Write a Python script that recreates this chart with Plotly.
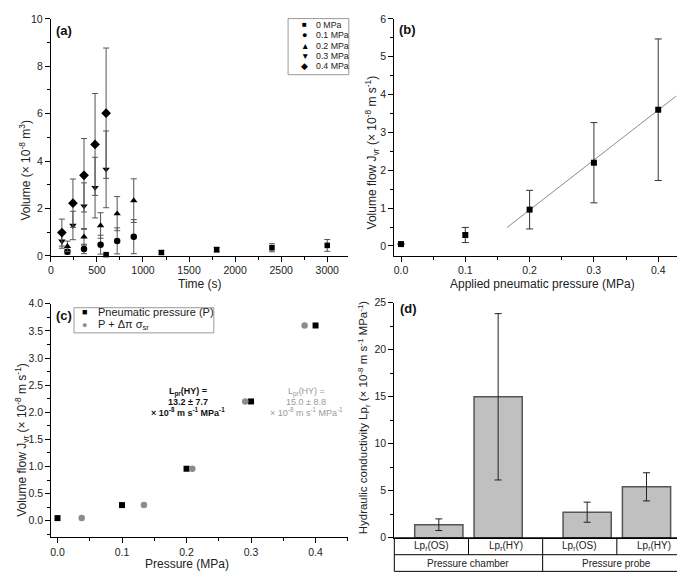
import plotly.graph_objects as go

# ---------------- data ----------------
# (a) volume vs time for applied pressures
t_0 = [600, 1200, 1800, 2400, 3000]
v_0 = [0.05, 0.14, 0.26, 0.34, 0.44]
e_0 = [0.03, 0.08, 0.10, 0.17, 0.25]
t_01 = [180, 360, 540, 720, 900]
v_01 = [0.17, 0.29, 0.47, 0.63, 0.81]
e_01 = [0.10, 0.20, 0.40, 0.55, 0.72]
t_02 = [180, 360, 540, 720, 900]
v_02 = [0.40, 0.80, 1.28, 1.78, 2.33]
e_02 = [0.22, 0.35, 0.54, 0.72, 0.92]
t_03 = [120, 240, 360, 480, 600]
v_03 = [0.62, 1.28, 2.10, 2.88, 3.65]
e_03 = [0.30, 0.60, 0.98, 1.28, 1.62]
t_04 = [120, 240, 360, 480, 600]
v_04 = [0.98, 2.22, 3.40, 4.70, 6.02]
e_04 = [0.57, 1.02, 1.55, 2.15, 2.75]
series_a_names = ["0 MPa", "0.1 MPa", "0.2 MPa", "0.3 MPa", "0.4 MPa"]

# (b) volume flow vs applied pressure
p_b = [0.0, 0.1, 0.2, 0.3, 0.4]
j_b = [0.05, 0.29, 0.96, 2.20, 3.60]
je_b = [0.0, 0.20, 0.51, 1.06, 1.87]
fit_x = [0.165, 0.428]
fit_y = [0.49, 3.96]

# (c) volume flow vs pressure
p_c = [0.0, 0.1, 0.2, 0.3, 0.4]
p_c_osm = [0.0375, 0.134, 0.209, 0.291, 0.383]
j_c = [0.05, 0.29, 0.96, 2.20, 3.60]
lp_lines_black = ["L<sub>pr</sub>(HY) =", "13.2 ± 7.7",
                  "× 10<sup>-8</sup> m s<sup>-1</sup> MPa<sup>-1</sup>"]
lp_lines_gray = ["L<sub>pr</sub>(HY) =", "15.0 ± 8.8",
                 "× 10<sup>-8</sup> m s<sup>-1</sup> MPa<sup>-1</sup>"]

# (d) hydraulic conductivity
bar_labels = ["Lp<sub>r</sub>(OS)", "Lp<sub>r</sub>(HY)", "Lp<sub>r</sub>(OS)", "Lp<sub>r</sub>(HY)"]
bar_groups = ["Pressure chamber", "Pressure probe"]
bar_pos = [0.6, 1.4, 2.6, 3.4]
bar_vals = [1.39, 15.0, 2.72, 5.42]
bar_errs = [0.62, 8.85, 1.07, 1.50]

FONT = "Liberation Sans, Arial, sans-serif"
W, H = 685, 572


def px(x):
    return x / W


def py(y):
    return 1 - y / H


fig = go.Figure()

ERR_A = "#555555"
sym_a = ["square", "circle", "triangle-up", "triangle-down", "diamond"]
size_a = [5.5, 6.5, 6.5, 6.5, 7.5]
for name, t, v, e, s, sz in zip(series_a_names,
                                 [t_0, t_01, t_02, t_03, t_04],
                                 [v_0, v_01, v_02, v_03, v_04],
                                 [e_0, e_01, e_02, e_03, e_04], sym_a, size_a):
    fig.add_trace(go.Scatter(
        x=t, y=v, mode="markers", name=name, xaxis="x", yaxis="y",
        marker=dict(symbol=s, size=sz, color="black"),
        error_y=dict(type="data", array=e, color=ERR_A, thickness=1, width=3),
        cliponaxis=False, showlegend=False))

# (b)
fig.add_trace(go.Scatter(x=fit_x, y=fit_y, mode="lines", xaxis="x2", yaxis="y2",
                         line=dict(color="#8a8a8a", width=1), showlegend=False))
fig.add_trace(go.Scatter(
    x=p_b, y=j_b, mode="markers", xaxis="x2", yaxis="y2",
    marker=dict(symbol="square", size=6, color="black"),
    error_y=dict(type="data", array=je_b, color="#333333", thickness=1, width=3.5),
    cliponaxis=False, showlegend=False))

# (c)
fig.add_trace(go.Scatter(x=p_c, y=j_c, mode="markers", xaxis="x3", yaxis="y3",
                         name="Pneumatic pressure (P)",
                         marker=dict(symbol="square", size=6, color="black"),
                         cliponaxis=False, showlegend=False))
fig.add_trace(go.Scatter(x=p_c_osm, y=j_c, mode="markers", xaxis="x3", yaxis="y3",
                         name="P + Δπ σsr",
                         marker=dict(symbol="circle", size=6.5, color="#8c8c8c"),
                         cliponaxis=False, showlegend=False))

# (d)
fig.add_trace(go.Bar(
    x=bar_pos, y=bar_vals, width=0.65, xaxis="x4", yaxis="y4",
    marker=dict(color="#c0c0c0", line=dict(color="#555555", width=1.5)),
    error_y=dict(type="data", array=bar_errs, color="#222222", thickness=1, width=3.5),
    showlegend=False))

common_axis = dict(showline=True, linecolor="black", linewidth=1, ticks="outside",
                   ticklen=5, tickcolor="black", tickwidth=1, showgrid=False,
                   zeroline=False, tickfont=dict(family=FONT, size=10.5, color="#222"),
                   mirror=False)

fig.update_layout(
    width=W, height=H, margin=dict(l=0, r=0, t=0, b=0),
    paper_bgcolor="white", plot_bgcolor="white", showlegend=False,
    font=dict(family=FONT, color="#222"),
    xaxis=dict(domain=[px(40), px(338)], range=[0, 3220], anchor="y", dtick=500,
               minor=dict(dtick=250, ticks="outside", ticklen=3, tickcolor="black"),
               **common_axis),
    yaxis=dict(domain=[py(247), py(5)], range=[0, 10], anchor="x", dtick=2,
               minor=dict(dtick=1, ticks="outside", ticklen=3, tickcolor="black"),
               **common_axis),
    xaxis2=dict(domain=[px(385), px(683)], range=[-0.0104, 0.451], anchor="y2", dtick=0.1,
                tickformat=".1f",
                minor=dict(dtick=0.05, ticks="outside", ticklen=3, tickcolor="black"),
                **common_axis),
    yaxis2=dict(domain=[py(247), py(5)], range=[-0.26, 6], anchor="x2", dtick=1,
                minor=dict(dtick=0.5, ticks="outside", ticklen=3, tickcolor="black"),
                **common_axis),
    xaxis3=dict(domain=[px(40.3), px(338.3)], range=[-0.0099, 0.45], anchor="y3", dtick=0.1,
                tickformat=".1f",
                minor=dict(dtick=0.05, ticks="outside", ticklen=3, tickcolor="black"),
                **common_axis),
    yaxis3=dict(domain=[py(534.3), py(296)], range=[-0.3, 4.0], anchor="x3", dtick=0.5,
                tickformat=".1f",
                minor=dict(dtick=0.25, ticks="outside", ticklen=3, tickcolor="black"),
                **common_axis),
    xaxis4=dict(domain=[px(385), px(683)], range=[0, 4], anchor="y4", showline=True,
                linecolor="black", showticklabels=False, ticks="", showgrid=False,
                zeroline=False),
    yaxis4=dict(domain=[py(535), py(295)], range=[0, 25], anchor="x4", dtick=5,
                minor=dict(dtick=2.5, ticks="outside", ticklen=3, tickcolor="black"),
                **common_axis),
)

ann = []


def add_text(x, y, text, size=12, color="#222", xanchor="center", yanchor="middle",
             angle=0, bold=False):
    ann.append(dict(x=x, y=y, xref="paper", yref="paper", text=text, showarrow=False,
                    xanchor=xanchor, yanchor=yanchor, textangle=angle,
                    font=dict(family=FONT, size=size, color=color,
                              weight="bold" if bold else "normal")))


# panel labels
add_text(px(43), py(17), "(a)", 13, "#111", "left", bold=True)
add_text(px(388), py(16), "(b)", 13, "#111", "left", bold=True)
add_text(px(43.5), py(308), "(c)", 13, "#111", "left", bold=True)
add_text(px(389), py(301), "(d)", 13, "#111", "left", bold=True)

# axis titles
add_text(px(189.5), py(276), "Time (s)", 12)
add_text(px(14), py(159), "Volume (× 10<sup>-8</sup> m<sup>3</sup>)", 12, angle=-90)
add_text(px(534), py(276), "Applied pneumatic pressure (MPa)", 12)
add_text(px(363), py(141), "Volume flow J<sub>vr</sub> (× 10<sup>-8</sup> m s<sup>-1</sup>)", 12, angle=-90)
add_text(px(177), py(561.5), "Pressure (MPa)", 12)
add_text(px(11), py(435), "Volume flow J<sub>vr</sub> (× 10<sup>-8</sup> m s<sup>-1</sup>)", 12, angle=-90)
add_text(px(354), py(411.5),
         "Hydraulic conductivity Lp<sub>r</sub> (× 10<sup>-8</sup> m s<sup>-1</sup> MPa<sup>-1</sup>)",
         11.5, angle=-90)

# legend (a)
glyphs_a = ["■", "●", "▲", "▼", "◆"]
glyph_sz = [8, 9, 8.5, 8.5, 9]
ys_a = [11, 21.7, 32.3, 42.7, 52.7]
for g, gs, nm, yy in zip(glyphs_a, glyph_sz, series_a_names, ys_a):
    add_text(px(295), py(yy), g, gs, "black")
    add_text(px(304.5), py(yy), nm, 8.8, "#222", "left")

# legend (c)
add_text(px(74), py(304), "■", 9, "black")
add_text(px(85.3), py(304), "Pneumatic pressure (P)", 11, "#222", "left")
add_text(px(74), py(317.3), "●", 9, "#8c8c8c")
add_text(px(85.3), py(317.3), "P + Δπ σ<sub>sr</sub>", 11, "#222", "left")

# (c) annotations, line by line
for yy, ln in zip([385.7, 396.2, 406.5], lp_lines_black):
    add_text(px(178), py(yy), "<b>" + ln + "</b>", 9, "#111")
for yy, ln in zip([385.7, 396.2, 406.5], lp_lines_gray):
    add_text(px(296.7), py(yy), ln, 9, "#9a9a9a")

# (d) table texts
row1_y = py(543.3)
row2_y = py(560.8)
x4_0, x4_1 = px(385), px(683)
cw = (x4_1 - x4_0) / 4
for i, lab in enumerate(bar_labels):
    add_text(x4_0 + cw * (i + 0.5), row1_y, lab, 10)
for i, g in enumerate(bar_groups):
    add_text(x4_0 + cw * (2 * i + 1), row2_y, g, 10)

fig.update_layout(annotations=ann)

shapes = []
# legend boxes
shapes.append(dict(type="rect", xref="paper", yref="paper", x0=px(278.3), x1=px(339.3),
                   y0=py(62), y1=py(4.7), line=dict(color="#9a9a9a", width=1)))
shapes.append(dict(type="rect", xref="paper", yref="paper", x0=px(63.3), x1=px(203.7),
                   y0=py(325.7), y1=py(300), line=dict(color="#9a9a9a", width=1)))
# table
t_top, t_mid, t_bot = py(535), py(552.3), py(569.3)
shapes.append(dict(type="rect", xref="x4 domain", yref="paper", x0=0, x1=1,
                   y0=t_bot, y1=t_top, line=dict(color="black", width=1)))
shapes.append(dict(type="line", xref="x4 domain", yref="paper", x0=0, x1=1,
                   y0=t_mid, y1=t_mid, line=dict(color="black", width=1)))
for xv in [0.25, 0.75]:
    shapes.append(dict(type="line", xref="x4 domain", yref="paper", x0=xv, x1=xv,
                       y0=t_mid, y1=t_top, line=dict(color="black", width=1)))
shapes.append(dict(type="line", xref="x4 domain", yref="paper", x0=0.5, x1=0.5,
                   y0=t_bot, y1=t_top, line=dict(color="black", width=1)))
fig.update_layout(shapes=shapes)

fig.write_html("out.html")
